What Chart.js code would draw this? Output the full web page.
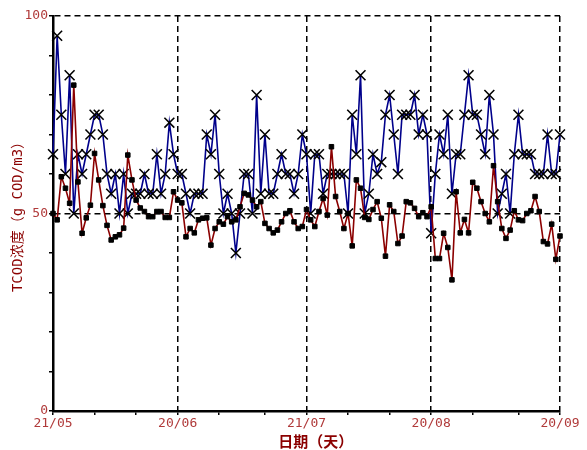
<!DOCTYPE html>
<html>
<head>
<meta charset="utf-8">
<script src="https://cdn.jsdelivr.net/npm/chart.js@4/dist/chart.umd.min.js"></script>
<style>
  html, body { margin: 0; padding: 0; background: #fff; }
  #wrap { width: 587px; height: 450px; position: relative; }
</style>
</head>
<body>
<div id="wrap"><canvas id="cod-chart"></canvas></div>
<script>
// ── DATA ─────────────────────────────────────────────────────
// one value per day, day 0 = 21/05
const redValues = [
  50, 48.4, 59.3, 56.4, 52.6, 82.5, 58, 45, 48.9, 52.1,
  65.2, 58.5, 52, 47, 43.3, 44.1, 44.6, 46.3, 64.8, 58.5,
  53.4, 51.4, 50.5, 49.2, 49.2, 50.5, 50.5, 49, 49, 55.5,
  53.4, 52.7, 44.1, 46.2, 45.1, 48.4, 48.8, 48.9, 42, 46.2,
  47.9, 47.3, 49.2, 47.9, 48.4, 51.7, 55.1, 54.7, 53.4, 51.7,
  53, 47.5, 46.2, 45.1, 45.8, 47.9, 50, 50.7, 47.9, 46.2,
  46.7, 51, 48.4, 46.7, 50.5, 53.8, 49.6, 66.9, 54.3, 50.5,
  46.2, 50, 41.8, 58.5, 56.4, 49, 48.5, 51, 53, 48.8,
  39.2, 52.2, 50.5, 42.4, 44.3, 53, 52.7, 51.3, 49.2, 50.2,
  49.2, 51.7, 38.6, 38.6, 45, 41.4, 33.2, 55.5, 45.1, 48.5,
  45.1, 57.9, 56.4, 53, 50, 47.9, 62.1, 53, 46.2, 43.7,
  45.8, 50.7, 48.4, 48.2, 50, 50.7, 54.3, 50.5, 42.9, 42.3,
  47.3, 38.4, 44.3, 49.2
];

const blueValues = [
  65, 95, 75, 60, 85, 50, 65, 60, 65, 70,
  75, 75, 70, 60, 55, 60, 50, 60, 50, 55,
  55, 55, 60, 55, 55, 65, 55, 60, 73, 65,
  60, 60, 55, 50, 55, 55, 55, 70, 65, 75,
  60, 50, 55, 50, 40, 50, 60, 60, 50, 80,
  55, 70, 55, 55, 60, 65, 60, 60, 55, 60,
  70, 65, 50, 65, 65, 55, 60, 60, 60, 60,
  60, 50, 75, 65, 85, 50, 55, 65, 60, 63,
  75, 80, 70, 60, 75, 75, 75, 80, 70, 75,
  70, 45, 60, 70, 65, 75, 55, 65, 65, 75,
  85, 75, 75, 70, 65, 80, 70, 50, 55, 60,
  50, 65, 75, 65, 65, 65, 60, 60, 60, 70,
  60, 60, 70
];

const majorTicks  = [0, 30, 61, 91, 122];
const majorLabels = ['21/05', '20/06', '21/07', '20/08', '20/09'];
const minorTicks  = [10, 20, 40, 51, 71, 81, 101, 112];
const yLabelled   = [0, 50, 100];

// ── CHART ────────────────────────────────────────────────────

const TICK_RED  = '#b03a3a';
const TITLE_RED = '#8b0000';
const MONO = "'DejaVu Sans Mono', monospace";

const toPoints = (arr) => arr.map((v, i) => ({ x: i, y: v }));

new Chart(document.getElementById('cod-chart'), {
  type: 'line',
  data: {
    datasets: [
      {
        label: 'red',
        data: toPoints(redValues),
        borderColor: '#8b0000',
        borderWidth: 1.6,
        tension: 0,
        pointStyle: 'rect',
        pointRadius: 3.2,
        pointBackgroundColor: '#000',
        pointBorderColor: '#000',
        pointBorderWidth: 1,
        clip: 8,
      },
      {
        label: 'blue',
        data: toPoints(blueValues),
        borderColor: '#00008b',
        borderWidth: 1.6,
        tension: 0,
        pointStyle: 'crossRot',
        pointRadius: 7,
        pointBorderColor: '#000',
        pointBorderWidth: 1.6,
        clip: 8,
      },
    ],
  },
  options: {
    responsive: true,
    maintainAspectRatio: false,
    animation: false,
    layout: { padding: { top: 16, right: 27, left: 0, bottom: 0 } },
    plugins: { legend: { display: false }, tooltip: { enabled: false } },
    scales: {
      x: {
        type: 'linear',
        min: 0,
        max: 122,
        afterBuildTicks: (scale) => {
          scale.ticks = [...majorTicks, ...minorTicks].sort((a, b) => a - b).map(v => ({ value: v }));
        },
        afterFit: (scale) => { scale.height = 39; },
        border: { display: true, color: '#000', width: 2.5, dash: [6, 4] },
        grid: {
          color: (ctx) => majorTicks.includes(ctx.tick && ctx.tick.value) ? '#000' : 'rgba(0,0,0,0)',
          lineWidth: 1.5,
          tickColor: '#000',
          tickLength: 4,
          tickWidth: 1.5,
          tickBorderDash: [],
        },
        ticks: {
          autoSkip: false,
          maxRotation: 0,
          padding: 1,
          color: TICK_RED,
          font: { family: MONO, size: 13 },
          callback: (v) => {
            const i = majorTicks.indexOf(v);
            return i >= 0 ? majorLabels[i] : '';
          },
        },
        title: {
          display: true,
          text: '\u3000 日期（天）',
          color: TITLE_RED,
          font: { family: "'Noto Sans CJK SC'", size: 15, weight: 'bold' },
          padding: { top: 0, bottom: 0 },
        },
      },
      y: {
        min: 0,
        max: 100,
        afterFit: (scale) => { scale.width = 53; },
        border: { display: true, color: '#000', width: 2.5, dash: [6, 4] },
        grid: {
          color: (ctx) => yLabelled.includes(ctx.tick && ctx.tick.value) ? '#000' : 'rgba(0,0,0,0)',
          lineWidth: 1.5,
          tickColor: '#000',
          tickLength: 4,
          tickWidth: 1.5,
          tickBorderDash: [],
        },
        ticks: {
          stepSize: 10,
          padding: 1,
          color: TICK_RED,
          font: { family: MONO, size: 13 },
          callback: (v) => yLabelled.includes(v) ? String(v) : '',
        },
        title: {
          display: true,
          text: 'TCOD浓度（g COD/m3）',
          color: TITLE_RED,
          font: { family: "'DejaVu Sans Mono', 'Noto Sans CJK SC'", size: 14 },
          padding: { top: 10, bottom: 0 },
        },
      },
    },
  },
});
</script>
</body>
</html>
